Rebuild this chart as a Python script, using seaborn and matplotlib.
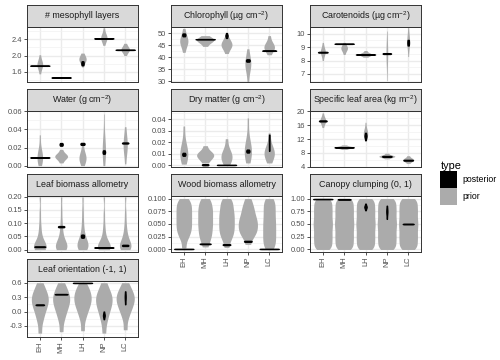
import numpy as np
import pandas as pd
import matplotlib
matplotlib.use("Agg")
import matplotlib.pyplot as plt
import seaborn as sns
from matplotlib.patches import Patch
from matplotlib.ticker import FixedLocator

sites = ["EH", "MH", "LH", "NP", "LC"]

# --- values (prior = grey, posterior = black) ---
meso_prior = [[1.55, 1.68, 1.72, 1.75, 1.78, 1.81, 1.84, 1.89, 2.02],
              [],
              [1.72, 1.82, 1.86, 1.89, 1.91, 1.93, 1.96, 2.0, 2.06],
              [2.25, 2.35, 2.39, 2.42, 2.44, 2.46, 2.49, 2.55, 2.68],
              [2.0, 2.08, 2.11, 2.13, 2.15, 2.17, 2.19, 2.23, 2.3]]
meso_post = [[1.745, 1.75, 1.755],
             [1.455, 1.46, 1.465],
             [1.76, 1.785, 1.81, 1.835, 1.86],
             [2.415, 2.42, 2.425],
             [2.135, 2.14, 2.145]]

chl_prior = [[42, 44.5, 45.5, 46.2, 46.8, 47.4, 48.2, 49.5, 52],
             [44.5, 45.8, 46.4, 46.8, 47.1, 47.4, 47.8, 48.3, 49],
             [41.5, 43.3, 44.1, 44.7, 45.2, 45.7, 46.3, 47.1, 48.5],
             [29.6, 33.5, 35.3, 36.4, 37.2, 38.0, 39.0, 40.5, 43.5],
             [41, 42.6, 43.3, 43.8, 44.3, 44.8, 45.4, 46.4, 49]]
chl_post = [[48.7, 49.0, 49.3, 49.6, 49.9],
            [47.42, 47.5, 47.58],
            [48.0, 48.85, 49.0, 49.15, 50.1],
            [38.1, 38.35, 38.6, 38.85, 39.1],
            [42.59, 42.7, 42.81]]

car_prior = [[8.0, 8.4, 8.52, 8.6, 8.67, 8.74, 8.82, 8.97, 9.35],
             [8.45, 8.7, 8.8, 8.87, 8.93, 8.98, 9.05, 9.15, 9.35],
             [8.25, 8.36, 8.4, 8.43, 8.46, 8.49, 8.52, 8.58, 8.75],
             [6.5, 7.6, 8.1, 8.35, 8.52, 8.7, 8.95, 9.4, 10.2],
             [8.3, 8.9, 9.15, 9.3, 9.42, 9.55, 9.7, 9.95, 10.5]]
car_post = [[8.59, 8.62, 8.65],
            [9.235, 9.25, 9.265],
            [8.435, 8.45, 8.465],
            [8.486, 8.52, 8.554],
            [9.12, 9.22, 9.33, 9.44, 9.54]]

water_prior = [[0.0, 0.004, 0.006, 0.008, 0.01, 0.012, 0.015, 0.02, 0.034],
               [0.003, 0.007, 0.0085, 0.0095, 0.0103, 0.011, 0.012, 0.0135, 0.018],
               [0.0, 0.004, 0.006, 0.0075, 0.009, 0.011, 0.013, 0.017, 0.025],
               [0.0, 0.008, 0.012, 0.015, 0.018, 0.022, 0.027, 0.035, 0.057],
               [0.002, 0.013, 0.017, 0.02, 0.023, 0.026, 0.029, 0.034, 0.043]]
water_post = [[0.0088, 0.009, 0.0092],
              [0.022, 0.02275, 0.0235, 0.02425, 0.025],
              [0.0229, 0.0234, 0.024, 0.0246, 0.0251],
              [0.0131, 0.0141, 0.015, 0.0159, 0.0169],
              [0.0244, 0.025, 0.0256]]

dry_prior = [[0.001, 0.005, 0.007, 0.009, 0.011, 0.013, 0.016, 0.021, 0.034],
             [0.002, 0.005, 0.0065, 0.0078, 0.0088, 0.0097, 0.0107, 0.012, 0.017],
             [0.0, 0.003, 0.005, 0.0065, 0.008, 0.0095, 0.0115, 0.0145, 0.023],
             [0.002, 0.007, 0.009, 0.011, 0.013, 0.015, 0.018, 0.024, 0.041],
             [0.002, 0.006, 0.008, 0.0095, 0.011, 0.0125, 0.0145, 0.018, 0.028]]
dry_post = [[0.0082, 0.0089, 0.0095, 0.0101, 0.0108],
            [0.0, 0.0005, 0.001],
            [0.00013, 0.0003, 0.00047],
            [0.011, 0.0117, 0.0123, 0.0129, 0.0136],
            [0.0125, 0.016, 0.0195, 0.023, 0.0265]]

sla_prior = [[15.3, 16.4, 16.8, 17.1, 17.3, 17.5, 17.8, 18.2, 19.5],
             [9.0, 9.35, 9.48, 9.56, 9.63, 9.7, 9.78, 9.9, 10.3],
             [11.3, 12.4, 12.9, 13.3, 13.6, 13.9, 14.3, 14.9, 16.8],
             [6.3, 6.7, 6.85, 6.95, 7.03, 7.1, 7.2, 7.35, 7.9],
             [5.0, 5.55, 5.75, 5.9, 6.02, 6.15, 6.3, 6.5, 7.2]]
sla_post = [[17.05, 17.2, 17.35],
            [9.54, 9.6, 9.66],
            [11.7, 12.4, 12.7, 12.85, 13.0, 13.3, 13.8],
            [6.88, 7.0, 7.12],
            [5.78, 5.9, 6.02]]

leafb_prior = [[0.0, 0.002, 0.004, 0.006, 0.008, 0.01, 0.013, 0.016, 0.02, 0.025, 0.032, 0.042, 0.056, 0.075, 0.1, 0.14, 0.2],
               [0.0, 0.002, 0.004, 0.006, 0.009, 0.012, 0.015, 0.019, 0.024, 0.03, 0.038, 0.05, 0.065, 0.085, 0.11, 0.15, 0.2],
               [0.0, 0.003, 0.006, 0.009, 0.012, 0.016, 0.02, 0.025, 0.03, 0.036, 0.044, 0.054, 0.068, 0.088, 0.115, 0.15, 0.2],
               [0.0, 0.0015, 0.003, 0.005, 0.007, 0.009, 0.012, 0.015, 0.019, 0.024, 0.03, 0.039, 0.052, 0.07, 0.095, 0.135, 0.2],
               [0.0, 0.002, 0.004, 0.007, 0.01, 0.013, 0.017, 0.021, 0.026, 0.032, 0.04, 0.05, 0.063, 0.08, 0.105, 0.14, 0.2]]
leafb_post = [[0.0096, 0.011, 0.0124],
              [0.0846, 0.087, 0.0894],
              [0.045, 0.048, 0.051, 0.054, 0.057],
              [0.0072, 0.008, 0.0088],
              [0.0136, 0.016, 0.0184]]

wood_prior = [[0.003, 0.02, 0.028, 0.034, 0.039, 0.044, 0.049, 0.054, 0.059, 0.064, 0.069, 0.074, 0.079, 0.084, 0.089, 0.094, 0.1],
              [0.005, 0.016, 0.023, 0.029, 0.035, 0.04, 0.046, 0.051, 0.056, 0.061, 0.067, 0.072, 0.077, 0.082, 0.088, 0.094, 0.1],
              [0.004, 0.018, 0.025, 0.031, 0.036, 0.041, 0.046, 0.051, 0.056, 0.061, 0.066, 0.071, 0.076, 0.082, 0.088, 0.094, 0.1],
              [0.01, 0.022, 0.028, 0.033, 0.037, 0.041, 0.045, 0.049, 0.053, 0.057, 0.061, 0.066, 0.071, 0.077, 0.083, 0.09, 0.1],
              [0.0, 0.007, 0.013, 0.019, 0.025, 0.031, 0.037, 0.043, 0.049, 0.055, 0.061, 0.068, 0.074, 0.081, 0.087, 0.094, 0.1]]
wood_post = [[0.0006, 0.001, 0.0014],
             [0.0103, 0.011, 0.0117],
             [0.0085, 0.0095, 0.0105],
             [0.015, 0.016, 0.017],
             [0.0006, 0.001, 0.0014]]

clump_uniform = [0.0, 0.06, 0.12, 0.19, 0.25, 0.31, 0.38, 0.44, 0.5, 0.56, 0.62, 0.69, 0.75, 0.81, 0.88, 0.94, 1.0]
clump_prior = [clump_uniform] * 5
clump_post = [[0.986, 0.99, 0.994],
              [0.979, 0.985, 0.991],
              [0.77, 0.815, 0.83, 0.835, 0.84, 0.855, 0.9],
              [0.6, 0.7, 0.73, 0.745, 0.76, 0.79, 0.86],
              [0.493, 0.5, 0.507]]

orient_prior = [[-0.45, -0.2, -0.08, 0.02, 0.09, 0.15, 0.2, 0.25, 0.3, 0.35, 0.41, 0.48, 0.6],
                [-0.42, -0.18, -0.06, 0.03, 0.1, 0.16, 0.21, 0.26, 0.31, 0.36, 0.42, 0.49, 0.6],
                [-0.4, -0.15, -0.03, 0.06, 0.12, 0.18, 0.23, 0.28, 0.33, 0.38, 0.44, 0.5, 0.6],
                [-0.45, -0.22, -0.1, 0.0, 0.07, 0.13, 0.19, 0.24, 0.29, 0.34, 0.4, 0.47, 0.6],
                [-0.38, -0.14, -0.02, 0.06, 0.12, 0.18, 0.23, 0.27, 0.32, 0.37, 0.42, 0.49, 0.6]]
orient_post = [[0.131, 0.14, 0.149],
               [0.354, 0.36, 0.366],
               [0.591, 0.595, 0.599],
               [-0.16, -0.11, -0.09, -0.08, -0.07, -0.05, 0.0],
               [0.15, 0.24, 0.28, 0.3, 0.32, 0.36, 0.42]]

titles = ["# mesophyll layers", "Chlorophyll (µg cm$^{-2}$)", "Carotenoids (µg cm$^{-2}$)",
          "Water (g cm$^{-2}$)", "Dry matter (g cm$^{-2}$)", "Specific leaf area (kg m$^{-2}$)",
          "Leaf biomass allometry", "Wood biomass allometry", "Canopy clumping (0, 1)",
          "Leaf orientation (-1, 1)"]

# --- layout / style ---
# (prior, post, ylim, yticks, fmt, prior width, bw_adjust)
panels = [
    (meso_prior, meso_post, (1.35, 2.70), [1.6, 2.0, 2.4], "{:.1f}", 0.4, 1.0),
    (chl_prior, chl_post, (29.6, 52.6), [30, 35, 40, 45, 50], "{:.0f}", 0.8, 1.0),
    (car_prior, car_post, (6.4, 10.5), [7, 8, 9, 10], "{:.0f}", 0.6, 1.0),
    (water_prior, water_post, (-0.0015, 0.0603), [0, 0.02, 0.04, 0.06], "{:.2f}", 0.6, 1.0),
    (dry_prior, dry_post, (-0.0015, 0.047), [0, 0.01, 0.02, 0.03, 0.04], "{:.2f}", 0.8, 1.0),
    (sla_prior, sla_post, (3.95, 20.05), [4, 8, 12, 16, 20], "{:.0f}", 0.9, 1.0),
    (leafb_prior, leafb_post, (-0.009, 0.203), [0, 0.05, 0.10, 0.15, 0.20], "{:.2f}", 0.6, 0.6),
    (wood_prior, wood_post, (-0.005, 0.105), [0, 0.025, 0.05, 0.075, 0.1], "{:.3f}", 0.9, 0.55),
    (clump_prior, clump_post, (-0.05, 1.05), [0, 0.25, 0.5, 0.75, 1.0], "{:.2f}", 0.9, 0.45),
    (orient_prior, orient_post, (-0.53, 0.635), [-0.3, 0.0, 0.3, 0.6], "{:.1f}", 0.85, 0.7),
]

GREY = "#ABABAB"
W, H = 500, 360
cols = [(27, 138), (171, 282), (310, 421)]
rows = [(27, 82), (111, 167), (196, 252), (281, 337)]
strip_h = 22
bottom_panels = {7, 8, 9}

plt.rcParams["font.family"] = ["Liberation Sans", "DejaVu Sans"]
plt.rcParams["mathtext.fontset"] = "custom"
plt.rcParams["mathtext.rm"] = "Liberation Sans"
plt.rcParams["mathtext.default"] = "regular"
plt.rcParams["axes.unicode_minus"] = False

fig = plt.figure(figsize=(W / 100, H / 100), dpi=100)


def long_df(groups):
    rows_ = [(s, v) for s, vals in zip(sites, groups) for v in vals]
    return pd.DataFrame(rows_, columns=["site", "value"])


def px_rect(x0, x1, y0, y1):
    return [x0 / W, 1 - y1 / H, (x1 - x0) / W, (y1 - y0) / H]


for i, (prior, post, ylim, yticks, fmt, pw, bw) in enumerate(panels):
    x0, x1 = cols[i % 3]
    y0, y1 = rows[i // 3]
    ax = fig.add_axes(px_rect(x0, x1, y0, y1))
    sns.violinplot(data=long_df(prior), x="site", y="value", order=sites, color=GREY,
                   saturation=1, density_norm="area", cut=0, inner=None, linewidth=0,
                   width=pw, bw_adjust=bw, ax=ax)
    sns.violinplot(data=long_df(post), x="site", y="value", order=sites, color="black",
                   linecolor="black", saturation=1, density_norm="area", cut=0, inner=None,
                   linewidth=0.9, width=0.9, ax=ax)
    ax.set_xlim(-0.6, 4.6)
    ax.set_ylim(*ylim)
    ax.set_xlabel("")
    ax.set_ylabel("")
    ax.yaxis.set_major_locator(FixedLocator(yticks))
    ax.set_yticklabels([fmt.format(t) for t in yticks])
    step = yticks[1] - yticks[0]
    minors = [t + step / 2 for t in [yticks[0] - step] + list(yticks)]
    ax.yaxis.set_minor_locator(FixedLocator([m for m in minors if ylim[0] < m < ylim[1]]))
    ax.set_axisbelow(True)
    ax.grid(True, which="major", color="#EBEBEB", lw=1.0)
    ax.grid(True, which="minor", axis="y", color="#F2F2F2", lw=0.5)
    ax.tick_params(axis="y", which="major", length=2, width=0.6, color="#333333",
                   labelsize=5.4, labelcolor="#4D4D4D", pad=1.5)
    ax.tick_params(which="minor", length=0)
    if i in bottom_panels:
        ax.set_xticks(range(5))
        ax.set_xticklabels(sites, rotation=90)
        ax.tick_params(axis="x", length=2, width=0.6, color="#333333",
                       labelsize=5.4, labelcolor="#4D4D4D", pad=1.5)
    else:
        ax.tick_params(axis="x", length=0, labelbottom=False)
    for sp in ax.spines.values():
        sp.set_color("#333333")
        sp.set_linewidth(0.7)

    sax = fig.add_axes(px_rect(x0, x1, y0 - strip_h, y0))
    sax.set_facecolor("#D9D9D9")
    sax.set_xticks([])
    sax.set_yticks([])
    for sp in sax.spines.values():
        sp.set_color("#333333")
        sp.set_linewidth(0.7)
    sax.text(0.5, 0.5, titles[i], ha="center", va="center", fontsize=6.4,
             color="#1A1A1A", transform=sax.transAxes)

handles = [Patch(facecolor="black", edgecolor="none"), Patch(facecolor=GREY, edgecolor="none")]
fig.legend(handles=handles, labels=["posterior", "prior"], title="type",
           loc="upper left", bbox_to_anchor=(436 / W, 1 - 157 / H), frameon=False,
           fontsize=6.3, title_fontsize=7.9, handlelength=1.9, handleheight=2.6,
           labelspacing=0.0, handletextpad=0.6, borderpad=0, alignment="left")

fig.savefig("out.png", dpi=100)
